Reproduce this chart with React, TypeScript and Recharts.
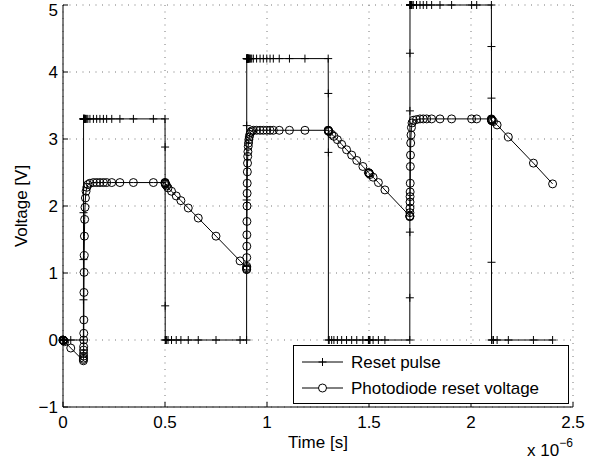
import React from 'react';
import { LineChart, Line, XAxis, YAxis, CartesianGrid, Legend } from 'recharts';

// Time in microseconds (axis shows x 10^-6 s)
// Segment 0: before first reset
const timeA = [0, 0.0005, 0.001, 0.002, 0.004, 0.008, 0.038, 0.1];
const resetA = [0, 0, 0, 0, 0, 0, 0, 0];
const diodeA = [0, -0.002, -0.003, -0.006, -0.012, -0.025, -0.12, -0.31];

// Segment 1: reset high (3.3 V)
const timeB = [0.1002, 0.1004, 0.1006, 0.1008, 0.101, 0.1012, 0.1015, 0.1018, 0.1022, 0.1027, 0.1033, 0.104, 0.105, 0.1062, 0.1078, 0.11, 0.113, 0.117, 0.122, 0.132, 0.149, 0.165, 0.181, 0.198, 0.214, 0.239, 0.279, 0.345, 0.443, 0.5];
const resetB = [0.6, 1.2, 1.9, 3.3, 3.3, 3.3, 3.3, 3.3, 3.3, 3.3, 3.3, 3.3, 3.3, 3.3, 3.3, 3.3, 3.3, 3.3, 3.3, 3.3, 3.3, 3.3, 3.3, 3.3, 3.3, 3.3, 3.3, 3.3, 3.3, 3.3];
const diodeB = [-0.29, -0.27, -0.24, -0.2, -0.15, -0.1, 0.0, 0.1, 0.3, 0.71, 1.01, 1.26, 1.55, 1.8, 1.98, 2.12, 2.22, 2.28, 2.32, 2.34, 2.35, 2.35, 2.35, 2.35, 2.35, 2.35, 2.35, 2.35, 2.35, 2.35];

// Segment 2: integration
const timeC = [0.5005, 0.5009, 0.501, 0.503, 0.508, 0.515, 0.532, 0.555, 0.578, 0.614, 0.663, 0.75, 0.868, 0.9];
const resetC = [2.88, 0.51, 0, 0, 0, 0, 0, 0, 0, 0, 0, 0, 0, 0];
const diodeC = [2.35, 2.34, 2.33, 2.32, 2.3, 2.27, 2.22, 2.15, 2.08, 1.97, 1.82, 1.55, 1.18, 1.08];

// Segment 3: reset high (4.2 V)
const timeD = [0.9002, 0.9004, 0.9006, 0.9008, 0.901, 0.9013, 0.9016, 0.902, 0.9025, 0.903, 0.9037, 0.9045, 0.9055, 0.9065, 0.908, 0.9095, 0.911, 0.913, 0.916, 0.92, 0.925, 0.933, 0.949, 0.966, 0.982, 0.999, 1.015, 1.031, 1.06, 1.11, 1.186, 1.3];
const resetD = [1.1, 2.09, 3.2, 4.2, 4.2, 4.2, 4.2, 4.2, 4.2, 4.2, 4.2, 4.2, 4.2, 4.2, 4.2, 4.2, 4.2, 4.2, 4.2, 4.2, 4.2, 4.2, 4.2, 4.2, 4.2, 4.2, 4.2, 4.2, 4.2, 4.2, 4.2, 4.2];
const diodeD = [1.05, 1.06, 1.1, 1.23, 1.4, 1.57, 1.77, 2.0, 2.19, 2.34, 2.51, 2.64, 2.74, 2.81, 2.89, 2.94, 2.99, 3.03, 3.07, 3.1, 3.12, 3.13, 3.13, 3.13, 3.13, 3.13, 3.13, 3.13, 3.13, 3.13, 3.13, 3.13];

// Segment 4: integration
const timeE = [1.3005, 1.3008, 1.301, 1.305, 1.317, 1.328, 1.345, 1.366, 1.39, 1.415, 1.44, 1.47, 1.497, 1.5, 1.5002, 1.5005, 1.505, 1.52, 1.546, 1.578, 1.7];
const resetE = [3.68, 2.8, 0, 0, 0, 0, 0, 0, 0, 0, 0, 0, 0, 0, 0, 0, 0, 0, 0, 0, 0];
const diodeE = [3.13, 3.12, 3.12, 3.11, 3.07, 3.04, 2.99, 2.92, 2.84, 2.76, 2.68, 2.59, 2.5, 2.49, 2.49, 2.49, 2.47, 2.43, 2.35, 2.24, 1.85];

// Segment 5: reset high (5 V)
const timeF = [1.7002, 1.7004, 1.7006, 1.7008, 1.701, 1.7013, 1.7017, 1.7022, 1.7028, 1.7035, 1.7045, 1.706, 1.708, 1.711, 1.717, 1.733, 1.75, 1.766, 1.783, 1.807, 1.848, 1.905, 2.003, 2.028, 2.1];
const resetF = [0.63, 1.61, 3.42, 4.28, 5, 5, 5, 5, 5, 5, 5, 5, 5, 5, 5, 5, 5, 5, 5, 5, 5, 5, 5, 5, 5];
const diodeF = [1.84, 1.85, 1.9, 1.97, 2.06, 2.14, 2.21, 2.34, 2.59, 2.76, 2.94, 3.06, 3.17, 3.24, 3.28, 3.29, 3.3, 3.3, 3.3, 3.3, 3.3, 3.3, 3.3, 3.3, 3.3];

// Segment 6: integration
const timeG = [2.1002, 2.1004, 2.1006, 2.1008, 2.103, 2.11, 2.128, 2.183, 2.306, 2.4];
const resetG = [4.38, 3.61, 1.16, 0, 0, 0, 0, 0, 0, 0];
const diodeG = [3.29, 3.29, 3.28, 3.28, 3.27, 3.26, 3.21, 3.03, 2.64, 2.33];

const xTicks = [0, 0.5, 1, 1.5, 2, 2.5];
const yTicks = [-1, 0, 1, 2, 3, 4, 5];

const timeUs = [...timeA, ...timeB, ...timeC, ...timeD, ...timeE, ...timeF, ...timeG];
const resetPulse = [...resetA, ...resetB, ...resetC, ...resetD, ...resetE, ...resetF, ...resetG];
const diodeVoltage = [...diodeA, ...diodeB, ...diodeC, ...diodeD, ...diodeE, ...diodeF, ...diodeG];

const data = timeUs.map((t, i) => ({ t, reset: resetPulse[i], diode: diodeVoltage[i] }));

const FONT = '"Liberation Sans", Arial, Helvetica, sans-serif';

const PlusDot = (props: any) => {
  const { cx, cy, index } = props;
  if (cx == null || cy == null) return <g key={`p-${index}`} />;
  return (
    <path
      key={`p-${index}`}
      d={`M${cx - 4},${cy}H${cx + 4}M${cx},${cy - 4}V${cy + 4}`}
      stroke="#000"
      strokeWidth={1}
      fill="none"
    />
  );
};

const CircleDot = (props: any) => {
  const { cx, cy, index } = props;
  if (cx == null || cy == null) return <g key={`c-${index}`} />;
  return <circle key={`c-${index}`} cx={cx} cy={cy} r={4} stroke="#000" strokeWidth={1} fill="none" />;
};

const LegendBox = () => (
  <svg width={276} height={59} style={{ display: 'block' }}>
    <rect x={0.5} y={0.5} width={275} height={58} fill="#fff" stroke="#000" strokeWidth={1} />
    <line x1={9} y1={17} x2={50} y2={17} stroke="#000" strokeWidth={1} />
    <path d="M25.5,17H33.5M29.5,13V21" stroke="#000" strokeWidth={1} />
    <text x={58} y={17} dominantBaseline="central" fontFamily={FONT} fontSize={17} fill="#000">Reset pulse</text>
    <line x1={9} y1={43} x2={50} y2={43} stroke="#000" strokeWidth={1} />
    <circle cx={29.5} cy={43} r={4} stroke="#000" strokeWidth={1} fill="#fff" />
    <text x={58} y={43} dominantBaseline="central" fontFamily={FONT} fontSize={17} fill="#000">Photodiode reset voltage</text>
  </svg>
);

const XLabel = (props: any) => {
  const vb = props.viewBox || { x: 63, y: 407, width: 510, height: 58 };
  return (
    <g fontFamily={FONT} fill="#000">
      <text x={vb.x + vb.width / 2} y={vb.y + 41} textAnchor="middle" fontSize={17}>Time [s]</text>
      <text x={vb.x + vb.width - 46} y={vb.y + 49} textAnchor="start" fontSize={17}>
        x 10
        <tspan dy={-9} fontSize={12}>−6</tspan>
      </text>
    </g>
  );
};

const YLabel = (props: any) => {
  const vb = props.viewBox || { x: 0, y: 5, width: 63, height: 402 };
  const cx = vb.x + 27;
  const cy = vb.y + vb.height / 2;
  return (
    <text
      x={cx}
      y={cy}
      textAnchor="middle"
      transform={`rotate(-90 ${cx} ${cy})`}
      fontFamily={FONT}
      fontSize={17}
      fill="#000"
    >
      Voltage [V]
    </text>
  );
};

const tickStyle = { fontFamily: FONT, fontSize: 17, fill: '#000' };

export default function App() {
  return (
    <div style={{ position: 'absolute', left: 0, top: 0, width: 602, height: 465, background: '#fff' }}>
      <LineChart width={602} height={465} data={data} margin={{ top: 5, right: 29, bottom: 0, left: 0 }}>
        <CartesianGrid stroke="#777" strokeDasharray="1 5.5" />
        <XAxis
          dataKey="t"
          type="number"
          domain={[0, 2.5]}
          ticks={xTicks}
          height={58}
          tickSize={-5}
          tickMargin={14}
          tick={tickStyle}
          tickFormatter={(v: number) => String(v)}
          axisLine={{ stroke: '#000' }}
          tickLine={{ stroke: '#000' }}
          label={<XLabel />}
        />
        <XAxis
          xAxisId="top"
          orientation="top"
          dataKey="t"
          type="number"
          domain={[0, 2.5]}
          ticks={xTicks}
          height={0}
          tickSize={-5}
          tick={false}
          axisLine={{ stroke: '#000' }}
          tickLine={{ stroke: '#000' }}
        />
        <YAxis
          type="number"
          domain={[-1, 5]}
          ticks={yTicks}
          width={63}
          tickSize={-5}
          tickMargin={10}
          tick={tickStyle}
          tickFormatter={(v: number) => (v < 0 ? `−${Math.abs(v)}` : String(v))}
          axisLine={{ stroke: '#000' }}
          tickLine={{ stroke: '#000' }}
          label={<YLabel />}
        />
        <YAxis
          yAxisId="right"
          orientation="right"
          type="number"
          domain={[-1, 5]}
          ticks={yTicks}
          width={0}
          tickSize={-5}
          tick={false}
          axisLine={{ stroke: '#000' }}
          tickLine={{ stroke: '#000' }}
        />
        <Line
          type="linear"
          dataKey="reset"
          name="Reset pulse"
          stroke="#000"
          strokeWidth={1}
          dot={PlusDot}
          activeDot={false}
          isAnimationActive={false}
        />
        <Line
          type="linear"
          dataKey="diode"
          name="Photodiode reset voltage"
          stroke="#000"
          strokeWidth={1}
          dot={CircleDot}
          activeDot={false}
          isAnimationActive={false}
        />
        <Legend
          layout="horizontal"
          verticalAlign="middle"
          align="center"
          content={() => <LegendBox />}
          wrapperStyle={{ position: 'absolute', left: 293, top: 345, width: 276, height: 59 }}
        />
      </LineChart>
    </div>
  );
}
